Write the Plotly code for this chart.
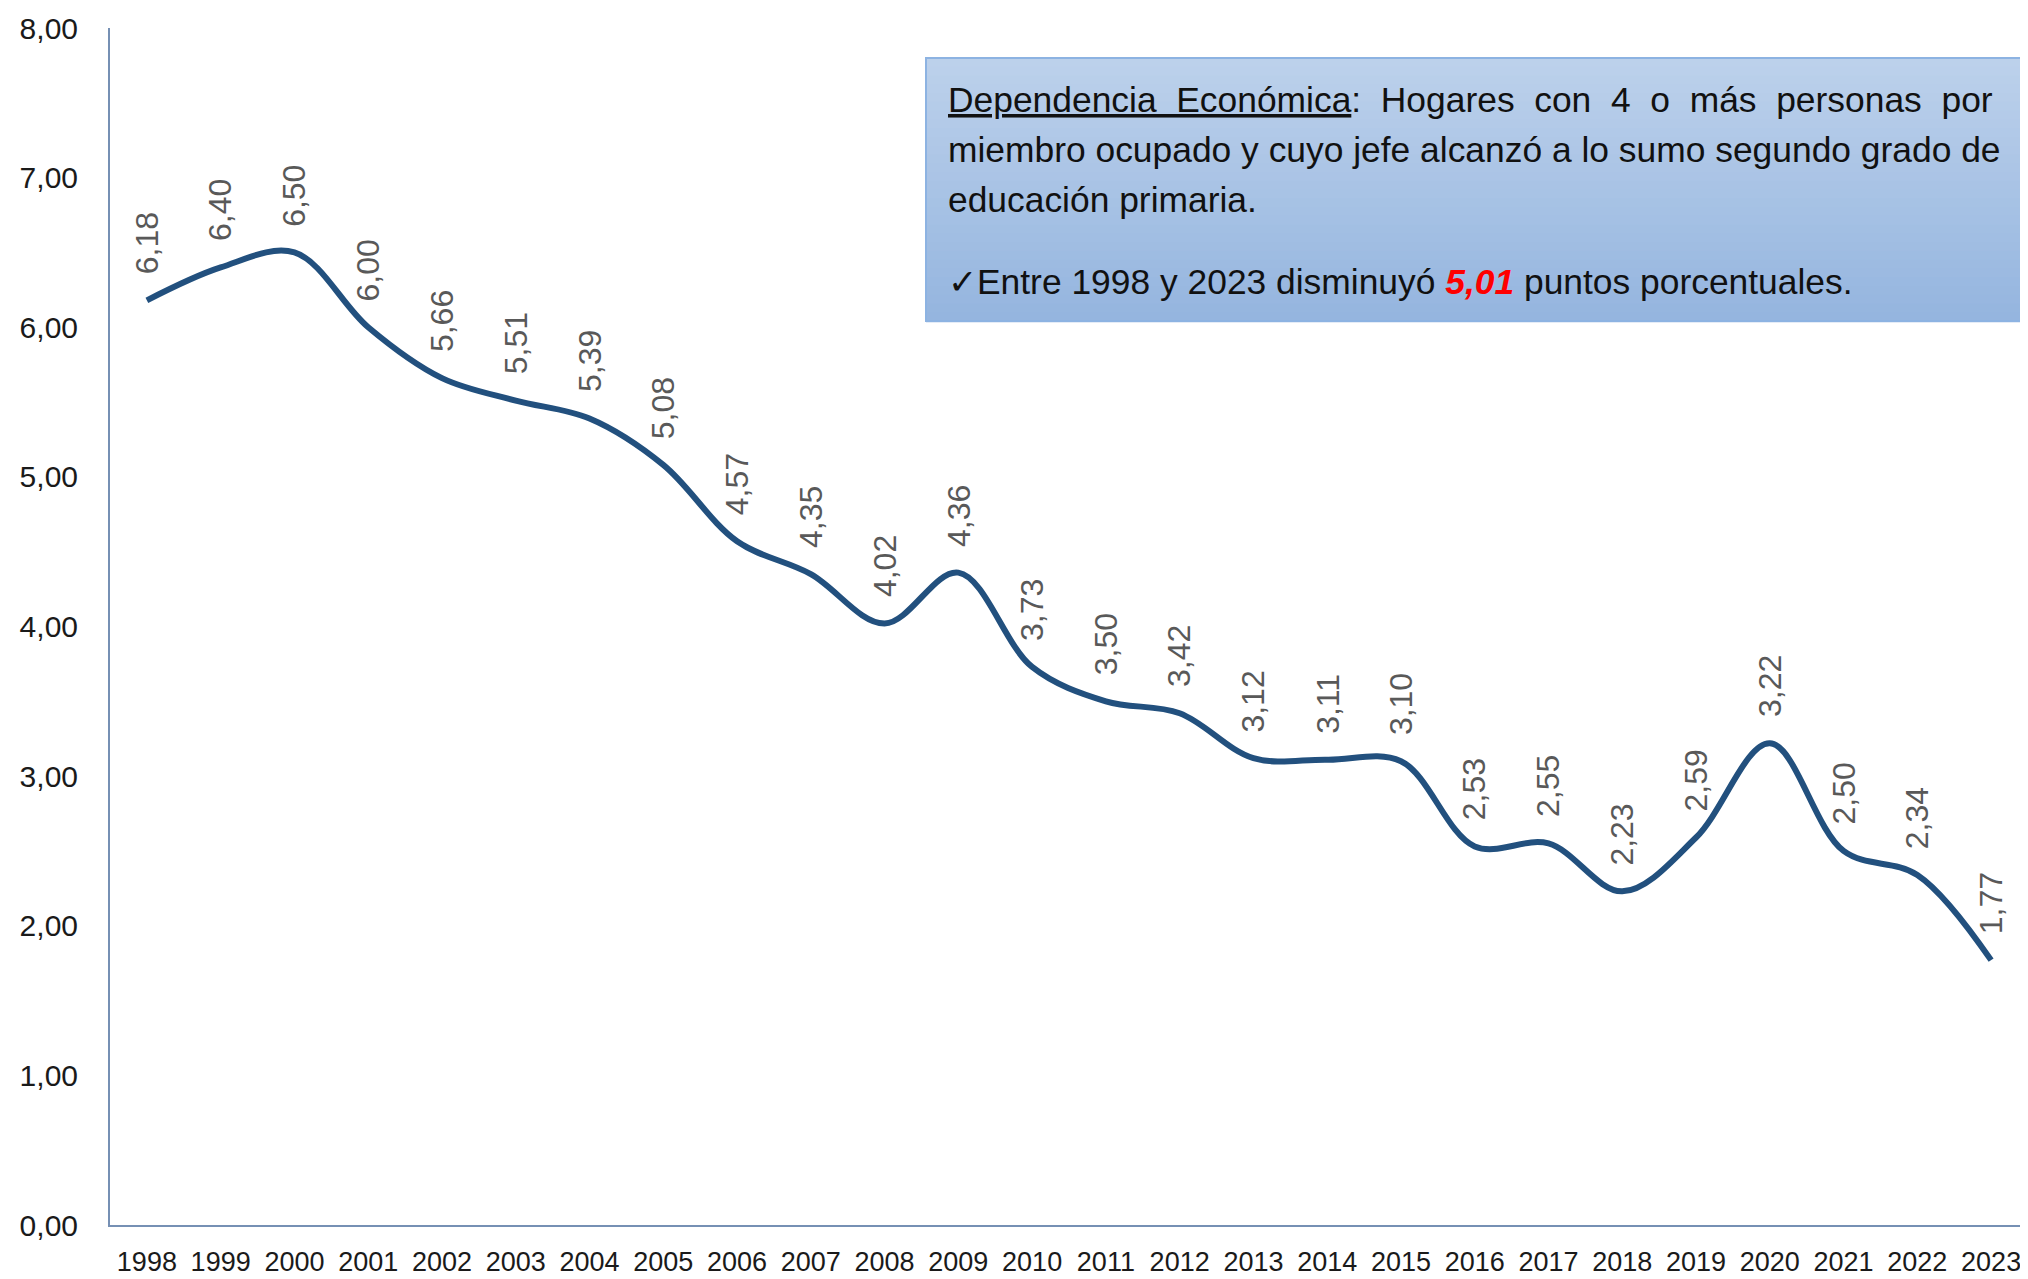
import plotly.graph_objects as go

years = [str(y) for y in range(1998, 2024)]
values = [6.18, 6.40, 6.50, 6.00, 5.66, 5.51, 5.39, 5.08, 4.57, 4.35, 4.02, 4.36, 3.73,
          3.50, 3.42, 3.12, 3.11, 3.10, 2.53, 2.55, 2.23, 2.59, 3.22, 2.50, 2.34, 1.77]
y_ticks = [0, 1, 2, 3, 4, 5, 6, 7, 8]

FONT = "Liberation Sans Narrow, Arial Narrow, Liberation Sans, Arial, sans-serif"

# page geometry (the html body adds an 8px offset)
PL, PR, PT, PB = 110, 2028, 28, 1225


def px(xp):
    return (xp - PL) / (PR - PL)


def py(yp):
    return (PB - yp) / (PB - PT)


fig = go.Figure()
fig.add_trace(go.Scatter(
    x=years, y=values, mode="lines",
    line=dict(color="#22507e", width=6, shape="spline", smoothing=1.0),
    hoverinfo="skip", showlegend=False,
))

for i, v in enumerate(values):
    fig.add_annotation(
        x=i, y=v, xref="x", yref="y",
        text=f"{v:.2f}".replace(".", ","),
        textangle=-90, showarrow=False,
        xanchor="center", yanchor="bottom", yshift=24,
        font=dict(family=FONT, size=32, color="#595959"),
    )

# explanatory box with vertical gradient
x0, x1, y0, y1 = px(926), px(2025), py(321), py(58)
n = 30
top = (0xbc, 0xd1, 0xeb)
bot = (0x95, 0xb5, 0xdf)
for k in range(n):
    t = k / (n - 1)
    c = tuple(round(top[j] + (bot[j] - top[j]) * t) for j in range(3))
    ya = y1 - (y1 - y0) * k / n
    yb = y1 - (y1 - y0) * (k + 1) / n
    fig.add_shape(type="rect", xref="paper", yref="paper", x0=x0, x1=x1, y0=yb - 0.001, y1=ya,
                  line=dict(width=0), fillcolor="rgb(%d,%d,%d)" % c, layer="below")
fig.add_shape(type="rect", xref="paper", yref="paper", x0=x0, x1=x1, y0=y0, y1=y1,
              line=dict(color="#8db3e2", width=2), fillcolor="rgba(0,0,0,0)")

sp = " &nbsp;"
box_lines = [
    ("<u>Dependencia" + sp + "Económica</u>:" + sp + sp.join(
        ["Hogares", "con", "4", "o", "más", "personas", "por"]), 100),
    ("miembro ocupado y cuyo jefe alcanzó a lo sumo segundo grado de", 150),
    ("educación primaria.", 200),
    ("✓Entre 1998 y 2023 disminuyó <span style='color:#ff0000'><b><i>5,01</i></b></span> "
     "puntos porcentuales.", 282),
]
for txt, yp in box_lines:
    fig.add_annotation(
        xref="paper", yref="paper", x=px(946), y=py(yp), xanchor="left", yanchor="middle",
        align="left", showarrow=False, text=txt,
        font=dict(family=FONT, size=35.4, color="#111111"),
    )

fig.update_layout(
    width=2020, height=1271,
    margin=dict(l=102, r=0, t=20, b=54),
    paper_bgcolor="white", plot_bgcolor="white",
    separators=",.",
    font=dict(family=FONT, color="#1a1a1a"),
    xaxis=dict(
        type="category", range=[-0.5, 25.5],
        showline=True, linecolor="#7690b4", linewidth=2,
        showgrid=False, zeroline=False, ticks="",
        tickfont=dict(family=FONT, size=27, color="#1a1a1a"),
        ticklabelstandoff=12,
    ),
    yaxis=dict(
        range=[0, 8], tickvals=y_ticks, tickformat=".2f",
        showline=True, linecolor="#7690b4", linewidth=2,
        showgrid=False, zeroline=False, ticks="",
        tickfont=dict(family=FONT, size=30, color="#1a1a1a"),
        ticklabelstandoff=24,
    ),
)

fig.write_html("out.html")
